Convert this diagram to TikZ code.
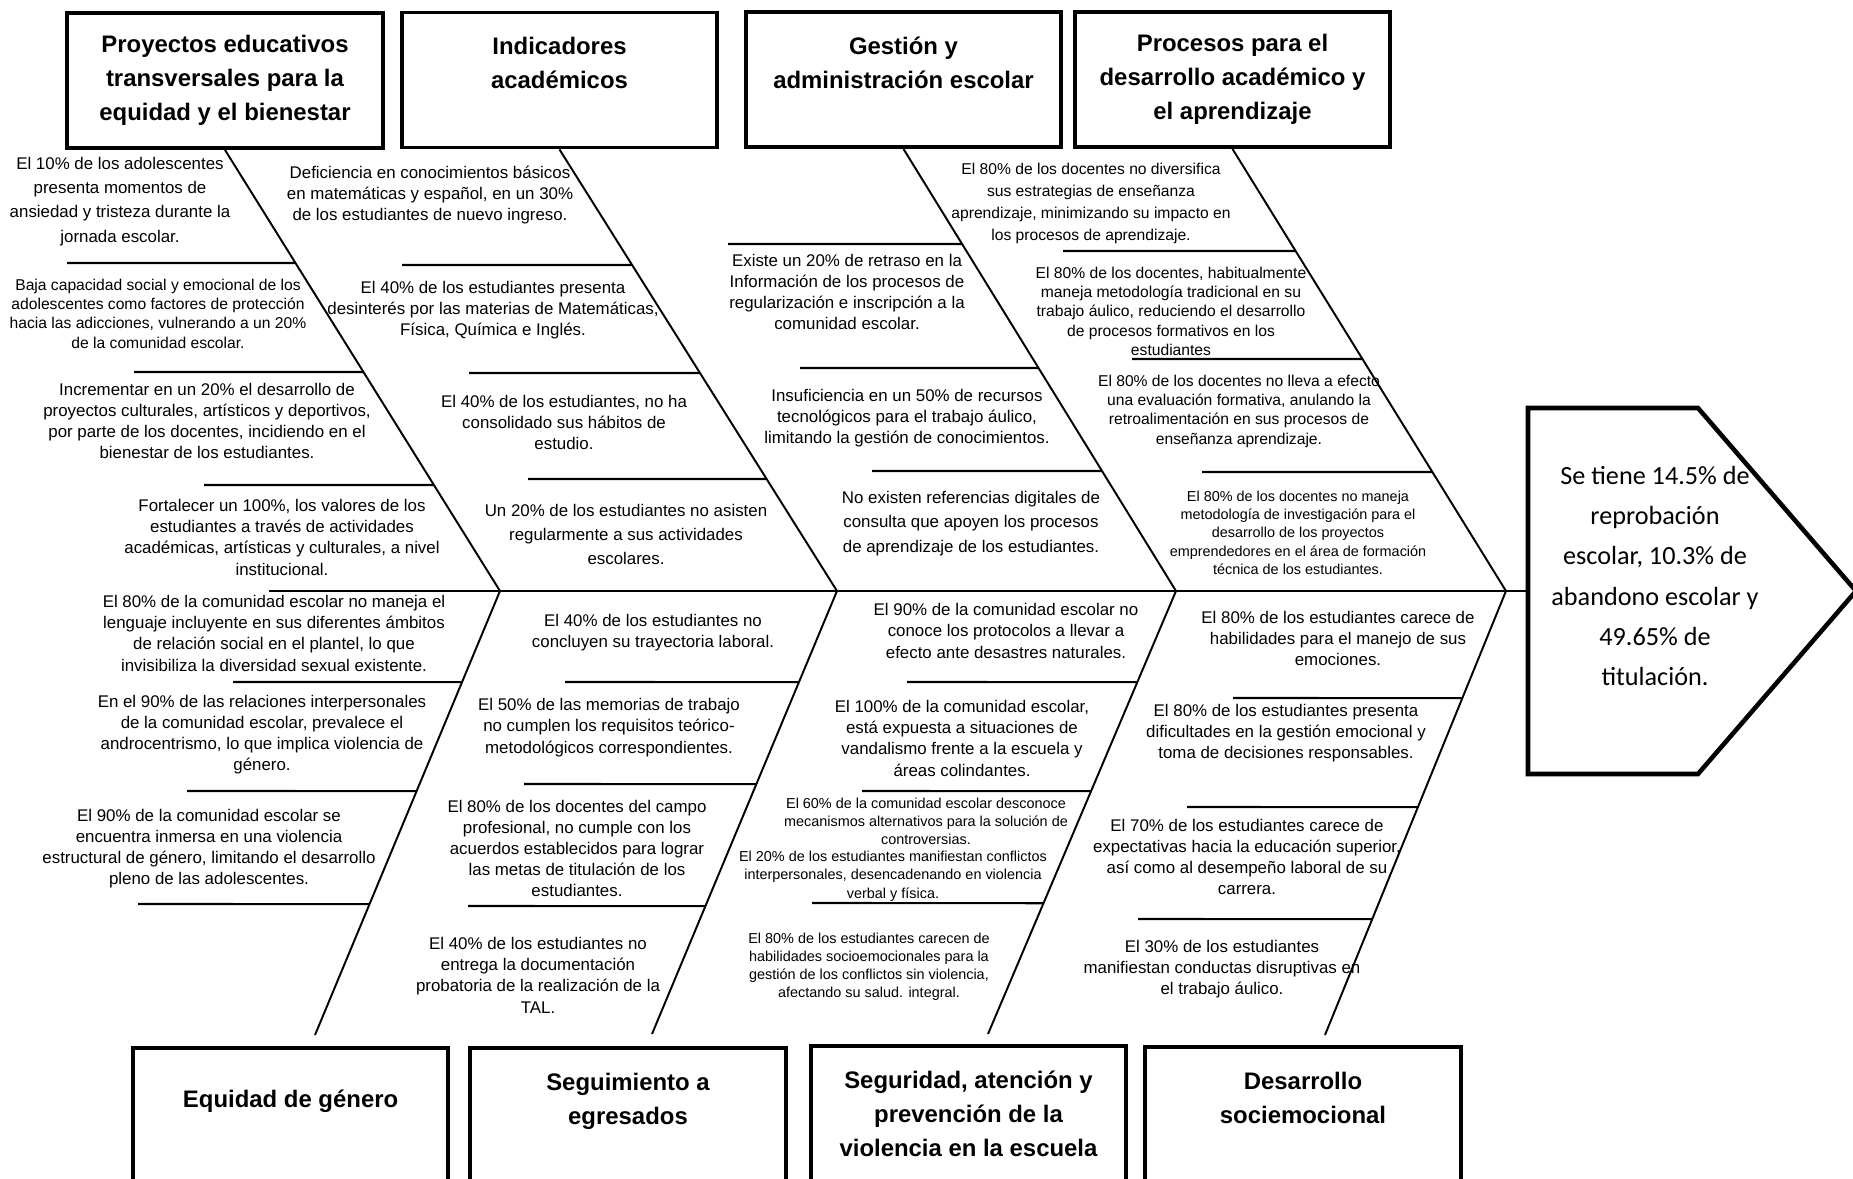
\documentclass[tikz,border=0pt]{standalone}
\usepackage{fontspec}
\setmainfont{Liberation Sans}
\newfontfamily\calfont{Carlito}
\tikzset{
  catbox/.style={draw, line width=1.1pt, minimum width=3.15cm, minimum height=1.35cm,
    inner sep=0pt, align=center, font=\bfseries\fontsize{6.8}{9.7}\selectfont},
  note/.style={align=center, inner sep=0pt, font=\fontsize{4.8}{6}\selectfont},
  noteloose/.style={note, font=\fontsize{4.8}{6.9}\selectfont},
  notesm/.style={note, font=\fontsize{4.45}{5.5}\selectfont},
  notexs/.style={note, font=\fontsize{4.1}{5.2}\selectfont},
  bone/.style={line width=0.55pt},
  twig/.style={line width=0.6pt},
}
\begin{document}
\begin{tikzpicture}[x=0.01cm, y=-0.01cm]
    \useasboundingbox (0,0) rectangle (1853,1179);
    \clip (0,0) rectangle (1853,1179);

    % Category boxes, top row
    \node[catbox] (pry) at (225,80.5) {Proyectos educativos\\transversales para la\\equidad y el bienestar};
    \node[catbox] (ind) at (559.5,80) {Indicadores\\académicos\\~};
    \node[catbox] (ges) at (903.5,79.5) {Gestión y\\administración escolar\\~};
    \node[catbox] (pro) at (1232.5,79.5) {Procesos para el\\desarrollo académico y\\el aprendizaje};

    % Category boxes, bottom row
    \node[catbox] (gen) at (290.6,1115.5) {Equidad de género\\~};
    \node[catbox] (egr) at (628,1115.5) {Seguimiento a\\egresados\\~};
    \node[catbox] (seg) at (968.5,1113.5) {Seguridad, atención y\\prevención de la\\violencia en la escuela};
    \node[catbox] (soc) at (1303,1114.5) {Desarrollo\\sociemocional\\~};

    % Effect (head of the fish)
    \draw[line width=1.3pt] (1528,408) -- (1698,408) -- (1856,591) -- (1698,774) -- (1528,774) -- cycle;
    \node[align=center, inner sep=0pt, font=\calfont\fontsize{7.45}{11.4}\selectfont] (eff) at (1655,576)
        {Se tiene 14.5\% de\\reprobación\\escolar, 10.3\% de\\abandono escolar y\\49.65\% de\\titulación.};

    % Spine and junctions
    \coordinate (tail) at (269,591);
    \coordinate (head) at (1528,591);
    \coordinate (j1) at (500,591);
    \coordinate (j2) at (837,591);
    \coordinate (j3) at (1176,591);
    \coordinate (j4) at (1506,591);
    \coordinate (e1) at (315,1035);
    \coordinate (e2) at (652,1034);
    \coordinate (e3) at (988,1034);
    \coordinate (e4) at (1325,1035);
    \draw[bone] (tail) -- (head);

    % Bones
    \draw[bone] (pry.south) -- (j1) -- (e1);
    \draw[bone] (ind.south) -- (j2) -- (e2);
    \draw[bone] (ges.south) -- (j3) -- (e3);
    \draw[bone] (pro.south) -- (j4) -- (e4);

    % Twigs
    \foreach \xa/\yy in {67/263, 134/372, 204/485}
        \draw[twig] (\xa,\yy) -- (intersection of pry.south--j1 and 0,\yy--10,\yy);
    \foreach \xa/\yy in {233/682, 187/791, 138/904}
        \draw[twig] (\xa,\yy) -- (intersection of j1--e1 and 0,\yy--10,\yy);
    \foreach \xa/\yy in {402/265, 469/373, 528/479}
        \draw[twig] (\xa,\yy) -- (intersection of ind.south--j2 and 0,\yy--10,\yy);
    \foreach \xa/\yy in {565/682, 524/784, 468/906}
        \draw[twig] (\xa,\yy) -- (intersection of j2--e2 and 0,\yy--10,\yy);
    \foreach \xa/\yy in {728/244, 800/368, 872/471}
        \draw[twig] (\xa,\yy) -- (intersection of ges.south--j3 and 0,\yy--10,\yy);
    \foreach \xa/\yy in {907/682, 862/791, 812/903}
        \draw[twig] (\xa,\yy) -- (intersection of j3--e3 and 0,\yy--10,\yy);
    \foreach \xa/\yy in {1063/251, 1132/359, 1202/472}
        \draw[twig] (\xa,\yy) -- (intersection of pro.south--j4 and 0,\yy--10,\yy);
    \foreach \xa/\yy in {1233/698, 1187/807, 1138/919}
        \draw[twig] (\xa,\yy) -- (intersection of j4--e4 and 0,\yy--10,\yy);

    % Causes: equidad y bienestar
    \node[noteloose] (ansiedad) at (120,201.5) {El 10\% de los adolescentes\\presenta momentos de\\ansiedad y tristeza durante la\\jornada escolar.};
    \node[notesm] (adicciones) at (158,313.5) {Baja capacidad social y emocional de los\\adolescentes como factores de protección\\hacia las adicciones, vulnerando a un 20\%\\de la comunidad escolar.};
    \node[note] (culturales) at (207,420.7) {Incrementar en un 20\% el desarrollo de\\proyectos culturales, artísticos y deportivos,\\por parte de los docentes, incidiendo en el\\bienestar de los estudiantes.};
    \node[note] (valores) at (282,537.4) {Fortalecer un 100\%, los valores de los\\estudiantes a través de actividades\\académicas, artísticas y culturales, a nivel\\institucional.};

    % Causes: equidad de genero
    \node[note] (lenguaje) at (274,633.4) {El 80\% de la comunidad escolar no maneja el\\lenguaje incluyente en sus diferentes ámbitos\\de relación social en el plantel, lo que\\invisibiliza la diversidad sexual existente.};
    \node[note] (androcentrismo) at (262,734.5) {En el 90\% de las relaciones interpersonales\\de la comunidad escolar, prevalece el\\androcentrismo, lo que implica violencia de\\género.};
    \node[note] (estructural) at (209,848.8) {El 90\% de la comunidad escolar se\\encuentra inmersa en una violencia\\estructural de género, limitando el desarrollo\\pleno de las adolescentes.};

    % Causes: indicadores
    \node[note] (basicos) at (430,195) {Deficiencia en conocimientos básicos\\en matemáticas y español, en un 30\%\\de los estudiantes de nuevo ingreso.};
    \node[note] (desinteres) at (493,310) {El 40\% de los estudiantes presenta\\desinterés por las materias de Matemáticas,\\Física, Química e Inglés.};
    \node[note] (habitos) at (564,422.3) {El 40\% de los estudiantes, no ha\\consolidado sus hábitos de\\estudio.};
    \node[noteloose] (asistencia) at (626,534.4) {Un 20\% de los estudiantes no asisten\\regularmente a sus actividades\\escolares.};

    % Causes: egresados
    \node[note] (trayectoria) at (653,632.2) {El 40\% de los estudiantes no\\concluyen su trayectoria laboral.};
    \node[note] (memorias) at (609,727.6) {El 50\% de las memorias de trabajo\\no cumplen los requisitos teórico-\\metodológicos correspondientes.};
    \node[note] (acuerdos) at (577,848.7) {El 80\% de los docentes del campo\\profesional, no cumple con los\\acuerdos establecidos para lograr\\las metas de titulación de los\\estudiantes.};
    \node[note] (tal) at (538,975.3) {El 40\% de los estudiantes no\\entrega la documentación\\probatoria de la realización de la\\TAL.};

    % Causes: gestion
    \node[note] (retraso) at (847,291.8) {Existe un 20\% de retraso en la\\Información de los procesos de\\regularización e inscripción a la\\comunidad escolar.};
    \node[note] (recursos) at (907,418.5) {Insuficiencia en un 50\% de recursos\\tecnológicos para el trabajo áulico,\\limitando la gestión de conocimientos.};
    \node[noteloose] (digitales) at (971,523.4) {No existen referencias digitales de\\consulta que apoyen los procesos\\de aprendizaje de los estudiantes.};

    % Causes: seguridad
    \node[note] (desastres) at (1006,630.9) {El 90\% de la comunidad escolar no\\conoce los protocolos a llevar a\\efecto ante desastres naturales.};
    \node[note] (vandalismo) at (962,738.4) {El 100\% de la comunidad escolar,\\está expuesta a situaciones de\\vandalismo frente a la escuela y\\áreas colindantes.};
    \node[notexs] (mecanismos) at (926,821.2) {El 60\% de la comunidad escolar desconoce\\mecanismos alternativos para la solución de\\controversias.};
    \node[notexs] (conflictos) at (893,876) {El 20\% de los estudiantes manifiestan conflictos\\interpersonales, desencadenando en violencia\\verbal y física.};
    \node[notexs] (salud) at (869,966.8) {El 80\% de los estudiantes carecen de\\habilidades socioemocionales para la\\gestión de los conflictos sin violencia,\\afectando su salud. integral.};

    % Causes: procesos
    \node[notesm, font=\fontsize{4.45}{6.3}\selectfont] (estrategias) at (1091,203.2) {El 80\% de los docentes no diversifica\\sus estrategias de enseñanza\\aprendizaje, minimizando su impacto en\\los procesos de aprendizaje.};
    \node[notesm] (tradicional) at (1171,311.4) {El 80\% de los docentes, habitualmente\\maneja metodología tradicional en su\\trabajo áulico, reduciendo el desarrollo\\de procesos formativos en los\\estudiantes};
    \node[notesm] (evaluacion) at (1239,411.2) {El 80\% de los docentes no lleva a efecto\\una evaluación formativa, anulando la\\retroalimentación en sus procesos de\\enseñanza aprendizaje.};
    \node[notexs] (investigacion) at (1298,532.7) {El 80\% de los docentes no maneja\\metodología de investigación para el\\desarrollo de los proyectos\\emprendedores en el área de formación\\técnica de los estudiantes.};

    % Causes: socioemocional
    \node[note] (emociones) at (1338,638.3) {El 80\% de los estudiantes carece de\\habilidades para el manejo de sus\\emociones.};
    \node[note] (decisiones) at (1286,733.3) {El 80\% de los estudiantes presenta\\dificultades en la gestión emocional y\\toma de decisiones responsables.};
    \node[note] (expectativas) at (1247,857.1) {El 70\% de los estudiantes carece de\\expectativas hacia la educación superior,\\así como al desempeño laboral de su\\carrera.};
    \node[note] (disruptivas) at (1222,969.4) {El 30\% de los estudiantes\\manifiestan conductas disruptivas en\\el trabajo áulico.};
\end{tikzpicture}
\end{document}
